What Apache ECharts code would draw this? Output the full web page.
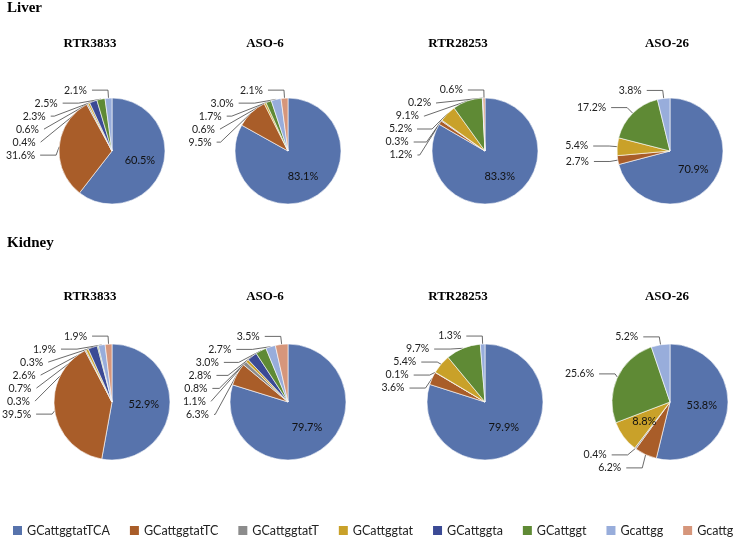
<!DOCTYPE html>
<html>
<head>
<meta charset="utf-8">
<script src="https://cdn.jsdelivr.net/npm/echarts@6/dist/echarts.min.js"></script>
<style>
html,body{margin:0;padding:0;background:#fff;}
#chart{width:740px;height:543px;}
</style>
</head>
<body>
<div id="chart"></div>
<script>
// ---- data ----
const categories = ['GCattggtatTCA','GCattggtatTC','GCattggtatT','GCattggtat','GCattggta','GCattggt','Gcattgg','Gcattg'];
const groupTitles = ['Liver','Kidney'];
const panelTitles = ['RTR3833','ASO-6','RTR28253','ASO-26'];

const liverRTR3833  = [60.5, 31.6, 0.4, 0.6, 2.3, 2.5, 2.1, 0];
const liverASO6     = [83.1, 9.5, 0, 0.6, 0, 1.7, 3.0, 2.1];
const liverRTR28253 = [83.3, 1.2, 0.3, 5.2, 0, 9.1, 0.2, 0.6];
const liverASO26    = [70.9, 2.7, 0, 5.4, 0, 17.2, 3.8, 0];

const kidneyRTR3833  = [52.9, 39.5, 0.3, 0.7, 2.6, 0.3, 1.9, 1.9];
const kidneyASO6     = [79.7, 6.3, 1.1, 0.8, 2.8, 3.0, 2.7, 3.5];
const kidneyRTR28253 = [79.9, 3.6, 0.1, 5.4, 0, 9.7, 1.3, 0];
const kidneyASO26    = [53.8, 6.2, 0.4, 8.8, 0, 25.6, 5.2, 0];

// ---- styling / layout ----
const colors = ['#5773ac','#a95d29','#8c8c8c','#c9a129','#3b4a95','#5f8a35','#98addb','#d6967b'];
const colX = [112, 288, 485, 670];
const titleX = [90, 265, 458, 667];
const rowY = [151, 402];
const rowR = [53, 58];
const rowTitleY = [37, 290];
const groupTitleY = [1, 236];
const insideIdx = [[0],[0],[0],[0],[0],[0],[0],[0,3]];

const panels = [liverRTR3833, liverASO6, liverRTR28253, liverASO26,
                kidneyRTR3833, kidneyASO6, kidneyRTR28253, kidneyASO26];

const titles = [];
groupTitles.forEach((t, r) => {
  titles.push({text: t, left: 7, top: groupTitleY[r], padding: 0,
    textStyle: {fontFamily: 'Liberation Serif', fontWeight: 'bold', fontSize: 15, color: '#000'}});
  panelTitles.forEach((p, c) => {
    titles.push({text: p, left: titleX[c], top: rowTitleY[r], textAlign: 'center', padding: 0,
      textStyle: {fontFamily: 'Liberation Serif', fontWeight: 'bold', fontSize: 13, color: '#000'}});
  });
});

const series = panels.map((vals, i) => {
  const r = Math.floor(i / 4), c = i % 4;
  const data = [];
  vals.forEach((v, k) => {
    if (v <= 0) return;
    const inside = insideIdx[i].indexOf(k) >= 0;
    data.push({
      name: categories[k], value: v,
      itemStyle: {color: colors[k]},
      label: inside ? {position: 'inside', color: '#111', fontSize: 11} : {position: 'outside'},
      labelLine: {show: !inside}
    });
  });
  return {
    type: 'pie',
    center: [colX[c], rowY[r]],
    radius: [0, rowR[r]],
    startAngle: 90,
    clockwise: true,
    animation: false,
    avoidLabelOverlap: true,
    itemStyle: {borderColor: '#ffffff', borderWidth: 0.6},
    label: {
      formatter: p => p.value.toFixed(1) + '%',
      fontFamily: 'Lato', fontSize: 10.5, color: '#222', width: 34, overflow: 'none'
    },
    labelLine: {length: 8, length2: 16, lineStyle: {color: '#444', width: 0.8}},
    emphasis: {disabled: true},
    data: data
  };
});

const chart = echarts.init(document.getElementById('chart'), null, {renderer: 'canvas'});
chart.setOption({
  backgroundColor: '#ffffff',
  title: titles,
  legend: {
    data: categories,
    bottom: 1,
    left: 8,
    width: 735,
    itemWidth: 9, itemHeight: 9, itemGap: 20, itemStyle: {borderWidth: 0},
    icon: 'rect',
    textStyle: {fontFamily: 'Lato', fontSize: 12.5, color: '#222'}
  },
  series: series
});
</script>
</body>
</html>
